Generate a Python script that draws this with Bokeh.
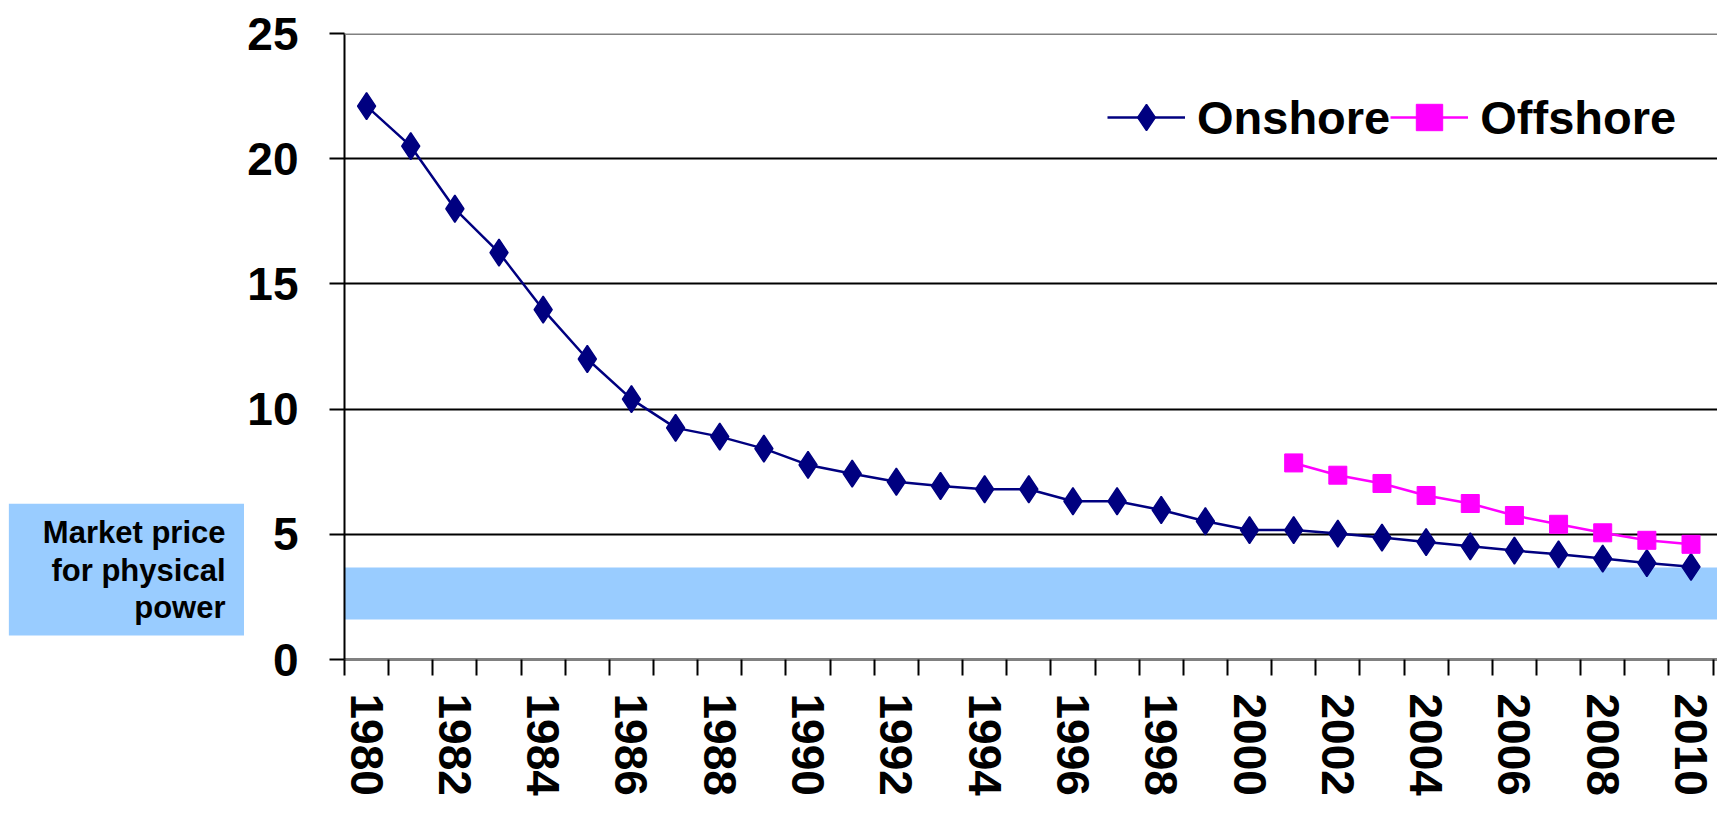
from bokeh.plotting import figure
from bokeh.layouts import row
from bokeh.models import Range1d, FixedTicker, Legend, LegendItem, BoxAnnotation, Span, Label
from bokeh.embed import file_html
from bokeh.resources import INLINE

# ---- data ----
years = list(range(1980, 2011))
onshore = [22.1, 20.5, 18.0, 16.25, 13.97, 12.0, 10.4, 9.25, 8.9, 8.42,
           7.77, 7.42, 7.1, 6.93, 6.8, 6.8, 6.32, 6.32, 5.97, 5.52,
           5.17, 5.17, 5.03, 4.87, 4.69, 4.52, 4.35, 4.2, 4.03, 3.85, 3.7]
offshore_years = list(range(2001, 2011))
offshore = [7.85, 7.36, 7.03, 6.55, 6.23, 5.75, 5.4, 5.06, 4.76, 4.6]
y_ticks = [0, 5, 10, 15, 20, 25]
grid_ticks = [5, 10, 15, 20]
x_label_years = list(range(1980, 2011, 2))
x_boundaries = [y + 0.5 for y in range(1979, 2011)]
market_low, market_high = 1.6, 3.67
market_text = "Market price\nfor physical\npower"
market_label_y = 3.59

FONT = "Liberation Sans"
TOP, BOTTOM = 33, 139

# ---- left panel holding the "Market price" box ----
side = figure(width=244, height=798, output_backend="svg", toolbar_location=None,
              x_range=Range1d(0, 1), y_range=Range1d(0, 25),
              x_axis_type=None, y_axis_type=None,
              min_border_left=0, min_border_right=0,
              min_border_top=TOP, min_border_bottom=BOTTOM)
side.outline_line_color = None
side.grid.visible = False
side.background_fill_color = "white"
side.border_fill_color = "white"
side.add_layout(Label(x=1, y=market_label_y, text=market_text,
                      text_align="right", text_baseline="middle",
                      text_font=FONT, text_font_size="31px", text_font_style="bold",
                      text_color="black", text_line_height=1.08,
                      background_fill_color="#99CCFF", background_fill_alpha=1.0,
                      padding=dict(left=34, right=19, top=11, bottom=10)))

# ---- main chart ----
p = figure(width=1473, height=798, output_backend="svg", toolbar_location=None,
           x_range=Range1d(1979.5, 2010.6), y_range=Range1d(0, 25),
           min_border_left=100, min_border_top=TOP, min_border_bottom=BOTTOM,
           min_border_right=0)
p.outline_line_color = None
p.background_fill_color = "white"
p.border_fill_color = "white"

p.xgrid.visible = False
p.ygrid.ticker = FixedTicker(ticks=grid_ticks)
p.ygrid.grid_line_color = "black"
p.ygrid.grid_line_width = 2

p.add_layout(BoxAnnotation(bottom=market_low, top=market_high, fill_color="#99CCFF",
                           fill_alpha=1.0, line_color=None, level="underlay"))
p.add_layout(Span(location=25, dimension="width", line_color="#808080", line_width=3))

ya = p.yaxis[0]
ya.ticker = FixedTicker(ticks=y_ticks)
ya.axis_line_color = "black"
ya.axis_line_width = 2
ya.major_tick_line_color = "black"
ya.major_tick_line_width = 2
ya.major_tick_out = 15
ya.major_tick_in = 0
ya.minor_tick_line_color = None
ya.major_label_text_font = FONT
ya.major_label_text_font_size = "46px"
ya.major_label_text_font_style = "bold"
ya.major_label_text_color = "black"
ya.major_label_standoff = 31

xa = p.xaxis[0]
xa.ticker = FixedTicker(ticks=x_label_years, minor_ticks=x_boundaries)
xa.axis_line_color = "#808080"
xa.axis_line_width = 3
xa.major_tick_out = 0
xa.major_tick_in = 0
xa.major_tick_line_color = None
xa.minor_tick_out = 16
xa.minor_tick_in = 0
xa.minor_tick_line_color = "black"
xa.minor_tick_line_width = 2
xa.major_label_orientation = "vertical"
xa.major_label_text_font = FONT
xa.major_label_text_font_size = "46px"
xa.major_label_text_font_style = "bold"
xa.major_label_text_color = "black"
xa.major_label_standoff = 18

on_line = p.line(years, onshore, line_color="#000080", line_width=2.5)
on_pts = p.scatter(years, onshore, marker="diamond", size=27, line_width=1.5,
                   fill_color="#000080", line_color="#000080")
off_line = p.line(offshore_years, offshore, line_color="#FF00FF", line_width=2.5)
off_pts = p.scatter(offshore_years, offshore, marker="square", size=18,
                    fill_color="#FF00FF", line_color="#FF00FF")

legend = Legend(items=[LegendItem(label="Onshore", renderers=[on_line, on_pts]),
                       LegendItem(label="Offshore", renderers=[off_line, off_pts])],
                orientation="horizontal", location=(763, 509),
                glyph_width=78, glyph_height=66, label_standoff=12, spacing=0,
                padding=0, margin=0, border_line_color=None,
                background_fill_alpha=0,
                label_text_font=FONT, label_text_font_size="47px",
                label_text_font_style="bold", label_text_color="black")
p.add_layout(legend)

layout = row(side, p)
open("out.html", "w").write(file_html(layout, INLINE))
